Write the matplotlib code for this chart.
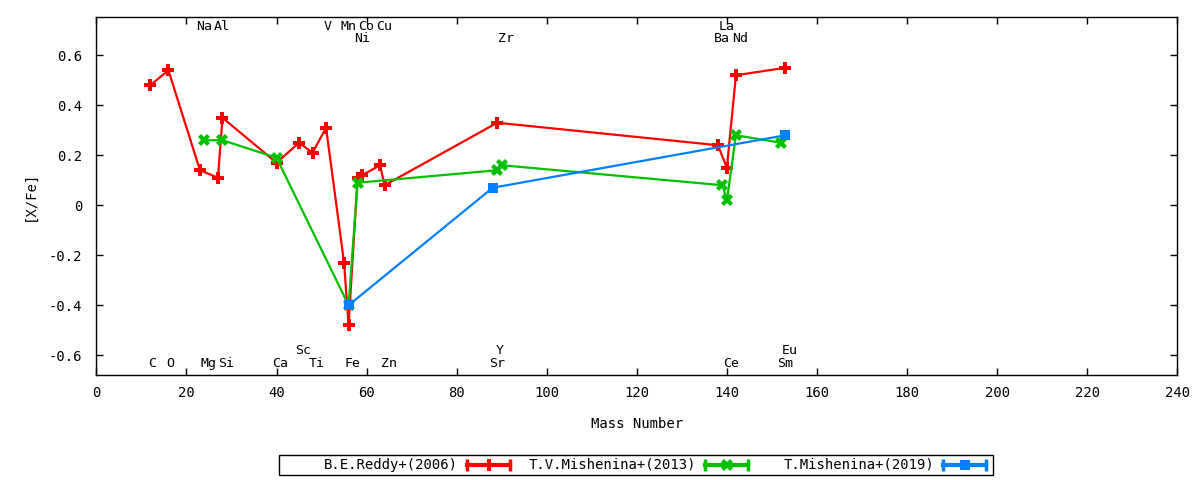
import matplotlib
matplotlib.use("Agg")
import matplotlib.pyplot as plt
from matplotlib.lines import Line2D
from matplotlib.patches import Rectangle

plt.rcParams['font.family'] = ['DejaVu Sans Mono']
plt.rcParams['font.size'] = 10

# B.E.Reddy+(2006)
reddy_mass = [12, 16, 23, 27, 28, 40, 45, 48, 51, 55, 56, 58, 59, 63, 64, 89, 138, 140, 142, 153]
reddy_xfe = [0.48, 0.54, 0.14, 0.11, 0.35, 0.17, 0.25, 0.21, 0.31, -0.23, -0.48,
             0.11, 0.12, 0.16, 0.08, 0.33, 0.24, 0.15, 0.52, 0.55]

# T.V.Mishenina+(2013)
mish13_mass = [24, 28, 40, 56, 58, 89, 90, 139, 140, 142, 152]
mish13_xfe = [0.26, 0.26, 0.19, -0.40, 0.09, 0.14, 0.16, 0.08, 0.02, 0.28, 0.25]

# T.Mishenina+(2019)
mish19_mass = [56, 88, 153]
mish19_xfe = [-0.40, 0.07, 0.28]

# element names placed along the top and bottom of the plot
top_names = ['Na', 'Al', 'V', 'Mn', 'Co', 'Cu', 'La']
top_mass = [23, 27, 51, 55, 59, 63, 139]
top2_names = ['Ni', 'Zr', 'Ba', 'Nd']
top2_mass = [58, 90, 138, 142]
bot_names = ['C', 'O', 'Mg', 'Si', 'Ca', 'Ti', 'Fe', 'Zn', 'Sr', 'Ce', 'Sm']
bot_mass = [12, 16, 24, 28, 40, 48, 56, 64, 88, 140, 152]
bot2_names = ['Sc', 'Y', 'Eu']
bot2_mass = [45, 89, 153]

labels = ['B.E.Reddy+(2006)', 'T.V.Mishenina+(2013)', 'T.Mishenina+(2019)']

fig = plt.figure(figsize=(12, 4.8), dpi=100)
ax = fig.add_axes([0.0803, 0.2188, 0.9008, 0.7458])

red = '#ff0000'
green = '#00c000'
blue = '#0080ff'
styles = [(red, 'P', 8), (green, 'X', 9), (blue, 's', 7.5)]

series = [(reddy_mass, reddy_xfe), (mish13_mass, mish13_xfe), (mish19_mass, mish19_xfe)]
for (m, v), (c, mk, ms) in zip(series, styles):
    ax.plot(m, v, color=c, lw=1.6, marker=mk, ms=ms, mew=0)

def put_names(names, masses, y):
    for n, m in zip(names, masses):
        ax.text(m + 0.45 * len(n), y, n, ha='center', va='center', fontsize=9.5)

put_names(top_names, top_mass, 0.716)
put_names(top2_names, top2_mass, 0.666)
put_names(bot_names, bot_mass, -0.634)
put_names(bot2_names, bot2_mass, -0.58)

ax.set_xlim(0, 240)
ax.set_ylim(-0.679, 0.753)
ax.set_xticks(range(0, 241, 20))
yt = [-0.6, -0.4, -0.2, 0, 0.2, 0.4, 0.6]
ax.set_yticks(yt)
ax.set_yticklabels(['-0.6', '-0.4', '-0.2', '0', '0.2', '0.4', '0.6'])
ax.tick_params(direction='in', length=5, width=1, top=True, right=True, pad=8)
ax.tick_params(axis='y', pad=10)
for s in ax.spines.values():
    s.set_linewidth(1)

ax.set_xlabel('Mass Number', labelpad=12)
ax.set_ylabel('[X/Fe]', labelpad=9)

# key box drawn by hand, gnuplot style: right aligned text, capped line sample
W, H = 1200.0, 480.0
fig.add_artist(Rectangle((279 / W, 1 - 475 / H), (993 - 279) / W, 20 / H,
                         transform=fig.transFigure, fill=False, lw=1, ec='black'))
yk = 1 - 465 / H
for i, (lab, (c, mk, ms)) in enumerate(zip(labels, styles)):
    x_end = 458 + 238 * i
    fig.text(x_end / W, yk, lab, ha='right', va='center', fontsize=10)
    x0, x1 = (x_end + 9) / W, (x_end + 52) / W
    fig.add_artist(Line2D([x0, x1], [yk, yk], transform=fig.transFigure, color=c, lw=3))
    fig.add_artist(Line2D([x0, x1], [yk, yk], transform=fig.transFigure, color=c, lw=0,
                          marker='|', ms=9, mew=2.5))
    fig.add_artist(Line2D([(x0 + x1) / 2], [yk], transform=fig.transFigure, color=c,
                          lw=0, marker=mk, ms=ms, mew=0))

fig.savefig('out.png', dpi=100)
